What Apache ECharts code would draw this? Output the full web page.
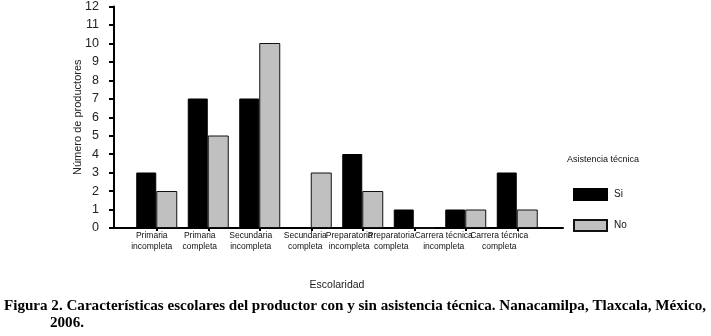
<!DOCTYPE html>
<html>
<head>
<meta charset="utf-8">
<script src="https://cdn.jsdelivr.net/npm/echarts@6/dist/echarts.min.js"></script>
<style>
  html, body { margin: 0; padding: 0; background: #fff; }
  #chart { width: 711px; height: 336px; }
</style>
</head>
<body>
<div id="chart"></div>
<script>
const categories = [
  'Primaria\nincompleta',
  'Primaria\ncompleta',
  'Secundaria\nincompleta',
  'Secundaria\ncompleta',
  'Preparatoria\nincompleta',
  'Preparatoria\ncompleta',
  'Carrera técnica\nincompleta',
  'Carrera técnica\ncompleta',
]
const conAsistencia = [3, 7, 7, 0, 4, 1, 1, 3]
const sinAsistencia = [2, 5, 10, 3, 2, 0, 1, 1]
const yTicks = { min: 0, max: 12, interval: 1 }

// labels in the original sit a bit left of their tick
const labelShift = [10, 17, 18, 12, 27, 46, 44, 36]

const chart = echarts.init(document.getElementById('chart'))
const font = 'Liberation Sans, Arial, sans-serif'
const serif = 'Liberation Serif, Times New Roman, serif'

chart.setOption({
  animation: false,
  title: [
    {
      text: 'Figura 2. Características escolares del productor con y sin asistencia técnica. Nanacamilpa, Tlaxcala, México,',
      left: 4, top: 299, padding: 0,
      textStyle: { fontFamily: serif, fontWeight: 'bold', fontSize: 15.1, color: '#000' },
    },
    {
      text: '2006.',
      left: 50, top: 316, padding: 0,
      textStyle: { fontFamily: serif, fontWeight: 'bold', fontSize: 15.1, color: '#000' },
    },
    {
      text: 'Asistencia técnica',
      left: 567, top: 155, padding: 0,
      textStyle: { fontFamily: font, fontWeight: 'normal', fontSize: 9, color: '#111' },
    },
  ],
  legend: {
    orient: 'vertical',
    left: 573, top: 188, padding: 0,
    itemWidth: 33, itemHeight: 11, itemGap: 18,
    icon: 'rect',
    textStyle: { fontFamily: font, fontSize: 10, color: '#111', padding: [0, 0, 0, 2] },
    data: ['Si', 'No'],
  },
  grid: [
    // axis frame
    { left: 114, width: 449, top: 6, height: 222 },
    // bars
    { left: 131, width: 412, top: 6, height: 222 },
  ],
  xAxis: [
    {
      gridIndex: 0, type: 'category', data: [''],
      axisLine: { lineStyle: { color: '#000', width: 2 } },
      axisTick: { show: false }, axisLabel: { show: false },
    },
    {
      gridIndex: 1, type: 'category',
      data: categories.map((c, i) => ({ value: c, textStyle: { padding: [0, labelShift[i], 0, 0] } })),
      name: 'Escolaridad', nameLocation: 'middle', nameGap: 52, nameMoveOverlap: false,
      nameTextStyle: { fontFamily: font, fontSize: 10.5, color: '#222' },
      axisLine: { show: false },
      axisTick: { show: true, alignWithLabel: true, length: 3, lineStyle: { color: '#000', width: 2 } },
      axisLabel: { interval: 0, fontFamily: font, fontSize: 8.5, color: '#111', lineHeight: 11, margin: 2 },
    },
  ],
  yAxis: [
    {
      gridIndex: 0, type: 'value', ...yTicks,
      name: 'Número de productores', nameLocation: 'middle', nameGap: 31, nameMoveOverlap: false,
      nameTextStyle: { fontFamily: font, fontSize: 11, color: '#222' },
      axisLine: { show: true, lineStyle: { color: '#000', width: 2 } },
      axisTick: { show: true, length: 5, lineStyle: { color: '#000', width: 2 } },
      axisLabel: { fontFamily: font, fontSize: 12.5, color: '#222', margin: 15, padding: [0, 0, 6, 0] },
      splitLine: { show: false },
    },
    {
      gridIndex: 1, type: 'value', ...yTicks, show: false,
      splitLine: { show: false },
    },
  ],
  series: [
    {
      name: 'Si', type: 'bar', xAxisIndex: 1, yAxisIndex: 1,
      data: conAsistencia, barWidth: 20, barGap: '0%',
      itemStyle: { color: '#000', borderColor: '#000', borderWidth: 1 },
    },
    {
      name: 'No', type: 'bar', xAxisIndex: 1, yAxisIndex: 1,
      data: sinAsistencia, barWidth: 21,
      itemStyle: { color: '#c0c0c0', borderColor: '#111', borderWidth: 1 },
    },
  ],
})
</script>
</body>
</html>
